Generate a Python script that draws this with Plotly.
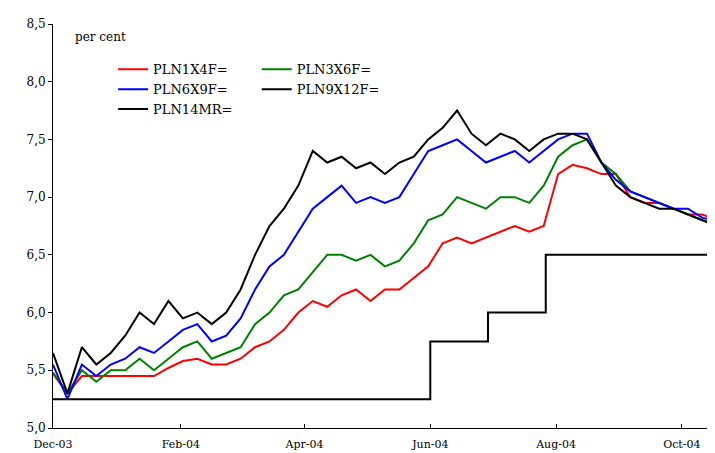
import plotly.graph_objects as go
import pandas as pd

dates = pd.date_range("2003-12-01", periods=47, freq="7D")
pln1x4 = [5.47,5.3,5.45,5.45,5.45,5.45,5.45,5.45,5.52,5.58,5.6,5.55,5.55,5.6,5.7,5.75,5.85,6.0,6.1,6.05,6.15,6.2,6.1,6.2,6.2,6.3,6.4,6.6,6.65,6.6,6.65,6.7,6.75,6.7,6.75,7.2,7.28,7.25,7.2,7.2,7.0,6.95,6.95,6.9,6.85,6.85,6.8]
pln3x6 = [5.48,5.3,5.5,5.4,5.5,5.5,5.6,5.5,5.6,5.7,5.75,5.6,5.65,5.7,5.9,6.0,6.15,6.2,6.35,6.5,6.5,6.45,6.5,6.4,6.45,6.6,6.8,6.85,7.0,6.95,6.9,7.0,7.0,6.95,7.1,7.35,7.45,7.5,7.3,7.2,7.05,7.0,6.95,6.9,6.85,6.8,6.78]
pln6x9 = [5.55,5.25,5.55,5.45,5.55,5.6,5.7,5.65,5.75,5.85,5.9,5.75,5.8,5.95,6.2,6.4,6.5,6.7,6.9,7.0,7.1,6.95,7.0,6.95,7.0,7.2,7.4,7.45,7.5,7.4,7.3,7.35,7.4,7.3,7.4,7.5,7.55,7.55,7.3,7.15,7.05,7.0,6.95,6.9,6.9,6.82,6.8]
pln9x12 = [5.65,5.3,5.7,5.55,5.65,5.8,6.0,5.9,6.1,5.95,6.0,5.9,6.0,6.2,6.5,6.75,6.9,7.1,7.4,7.3,7.35,7.25,7.3,7.2,7.3,7.35,7.5,7.6,7.75,7.55,7.45,7.55,7.5,7.4,7.5,7.55,7.55,7.5,7.3,7.1,7.0,6.95,6.9,6.9,6.85,6.8,6.75]
step_dates = ["2003-12-01","2004-06-01","2004-06-29","2004-07-27","2004-10-20"]
pln14mr = [5.25,5.75,6.0,6.5,6.5]

fig = go.Figure()
for name, vals, col, lg in [("PLN1X4F=", pln1x4, "#ff0000", "legend"), ("PLN3X6F=", pln3x6, "#008000", "legend2"),
                            ("PLN6X9F=", pln6x9, "#0000ff", "legend"), ("PLN9X12F=", pln9x12, "#000000", "legend2")]:
    fig.add_trace(go.Scatter(x=dates, y=vals, name=name, mode="lines", legend=lg,
                             line=dict(color=col, width=2)))
fig.add_trace(go.Scatter(x=step_dates, y=pln14mr, name="PLN14MR=", mode="lines", legend="legend",
                         line=dict(color="#000000", width=2, shape="hv")))

legstyle = dict(y=0.925, xanchor="left", yanchor="top", bgcolor="rgba(0,0,0,0)",
                itemwidth=30, font=dict(size=13), tracegroupgap=0)
fig.update_layout(
    width=715, height=453, margin=dict(l=45, r=2, t=16, b=33),
    plot_bgcolor="white", paper_bgcolor="white", separators=",.",
    font=dict(family="DejaVu Serif, Liberation Serif, serif", size=12, color="black"),
    showlegend=True,
    legend=dict(x=0.09, **legstyle),
    legend2=dict(x=0.305, **legstyle),
    annotations=[dict(text="per cent", xref="paper", yref="paper", x=0.03, y=0.99,
                      xanchor="left", yanchor="top", showarrow=False, font=dict(size=12))],
)
fig.update_xaxes(type="date", range=["2003-12-01", "2004-10-20"], tickvals=["2003-12-01","2004-02-01","2004-04-01","2004-06-01","2004-08-01","2004-10-01"],
                 tickformat="%b-%y", showline=True, linecolor="black", ticks="inside", tickcolor="black",
                 ticklen=4, showgrid=False, zeroline=False, tickfont=dict(size=11), ticklabelstandoff=6)
fig.update_yaxes(range=[5.0, 8.5], dtick=0.5, tickformat=".1f", showline=True, linecolor="black",
                 ticks="outside", tickcolor="black", ticklen=4, showgrid=False, zeroline=False)
fig.write_html("out.html")
